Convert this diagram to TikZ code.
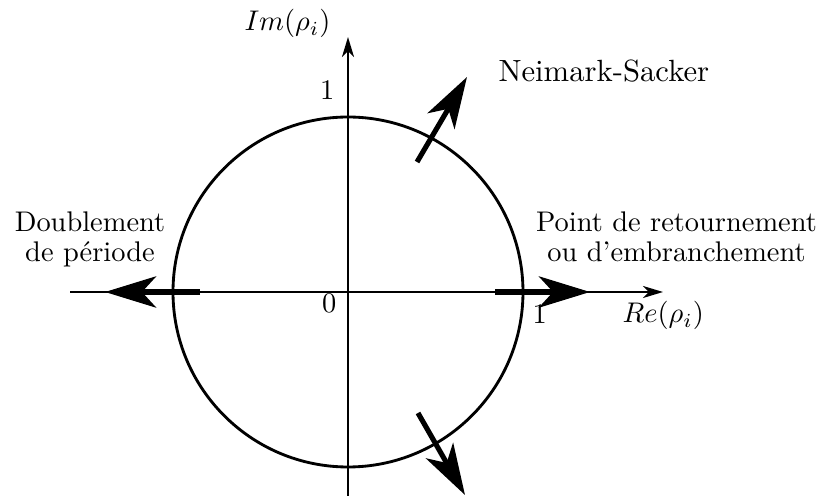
\documentclass[tikz,border=0pt]{standalone}
\usetikzlibrary{arrows.meta}
\begin{document}
\begin{tikzpicture}[x=0.352pt,y=-0.352pt,
  axis/.style={line width=0.8pt,-{Stealth[length=7pt,width=4.2pt,inset=2pt]}},
  bigarrow/.style={line width=1.8pt,-{Stealth[length=18pt,width=11pt,inset=5pt]}},
  lbl/.style={inner sep=0pt,font=\fontsize{10}{10}\selectfont},
  txt/.style={inner sep=0pt,font=\fontsize{10}{10.6}\selectfont}]
\useasboundingbox (0,0) rectangle (822,496);
\coordinate (O) at (348,292);
\coordinate (xl) at (70,292);
\coordinate (xr) at (663,292);
\coordinate (yb) at (348,498);
\coordinate (yt) at (348,37);
\draw[line width=1pt] (O) circle[radius=175];
\draw[axis] (xl) -- (xr);
\draw[axis] (yb) -- (yt);
\coordinate (la) at (200,292);
\coordinate (lb) at (105,292);
\coordinate (ra) at (495,292);
\coordinate (rb) at (590,292);
\coordinate (ua) at (417,162);
\coordinate (ub) at (467,77);
\coordinate (da) at (418,413);
\coordinate (db) at (465,495);
\draw[bigarrow] (la) -- (lb);
\draw[bigarrow] (ra) -- (rb);
\draw[bigarrow] (ua) -- (ub);
\draw[bigarrow] (da) -- (db);
\node[lbl,anchor=base east] (im) at (331,31) {$Im(\rho_i)$};
\node[lbl,anchor=base west] (re) at (622,323) {$Re(\rho_i)$};
\node[lbl,anchor=base east] (one1) at (335,100) {1};
\node[lbl,anchor=base east] (zero) at (337,313) {0};
\node[lbl,anchor=base west] (one2) at (532,324) {1};
\node[inner sep=0pt,font=\fontsize{10.8}{12}\selectfont,anchor=base west] (ns) at (498,82) {Neimark-Sacker};
\node[txt,align=center,anchor=base] (dp) at (90,262) {Doublement\\de p\'eriode};
\node[txt,align=center,anchor=base] (pr) at (676.5,262) {Point de retournement\\ou d'embranchement};
\end{tikzpicture}
\end{document}
